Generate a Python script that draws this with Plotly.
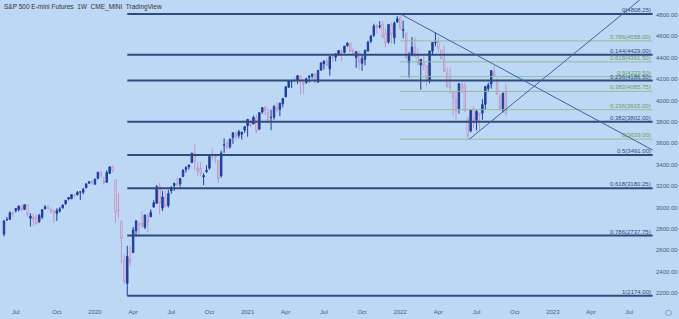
import pandas as pd
import plotly.graph_objects as go

# ---------------- data ----------------
week_start = "2019-06-03"
opens = [2751,2885,2889,2951,2971,2980,3014,2982,3024,2898,2907,2913,2866,2910,2988,2996,2983,2967,2944,2966,
         2996,3035,3079,3081,3118,3117,3143,3141,3183,3227,3240,
         3217,3271,3333,3248,3235,3318,3378,3257,2975,2863,2509,2290,2514,2578,2782,2845,2855,2815,2915,2913,
         3005,3038,3199,2994,3094,3018,3155,3205,3224,3220,3289,3356,3380,3419,3507,3370,3363,3285,3334,3367,
         3500,3493,3441,3296,3583,3600,3567,3654,3694,3675,3684,3723,
         3764,3803,3781,3844,3732,3892,3939,3886,3842,3844,3942,3916,3969,4034,4124,4179,4185,4192,4228,4169,
         4170,4216,4229,4248,4174,4285,4344,4372,4296,4409,4406,4438,4461,4450,4514,4535,4474,4403,4450,4348,
         4385,4463,4553,4610,4701,4689,4712,4628,4548,4710,4587,4733,
         4778,4655,4632,4356,4431,4505,4412,4332,4363,4327,4188,4462,4541,4547,4474,4385,4255,4130,4081,4014,
         3920,4151,4134,3838,3715,3921,3815,3880,3883,3965,4112,4155,4270,4195,4041,3909,4083]
highs = [2884,2911,2964,2962,2996,3014,3017,3028,3028,2945,2943,2939,2940,2985,3021,3022,2999,2983,2993,3003,
         3027,3067,3097,3121,3127,3154,3150,3183,3226,3247,3258,
         3268,3329,3338,3287,3347,3385,3393,3259,3136,2882,2562,2641,2641,2818,2880,2867,2965,2931,2945,2981,
         3068,3211,3233,3155,3155,3165,3198,3233,3280,3272,3352,3387,3400,3509,3588,3425,3429,3320,3394,3486,
         3550,3502,3441,3530,3646,3628,3645,3699,3712,3726,3711,3760,
         3826,3823,3860,3870,3887,3935,3950,3928,3915,3960,3983,3978,4020,4130,4191,4194,4219,4238,4237,4197,
         4213,4233,4255,4257,4286,4356,4372,4394,4415,4429,4440,4468,4480,4510,4546,4536,4486,4465,4466,4429,
         4475,4559,4608,4718,4714,4743,4744,4672,4713,4731,4740,4790,
         4808.25,4748,4632,4453,4595,4590,4490,4385,4416,4327,4465,4546,4637,4593,4471,4513,4308,4307,4081,4090,
         4158,4168,4169,3838,3913,3946,3918,3880,4013,4140,4168,4280,4325,4204,4061,4076,4160]
lows = [2728,2873,2883,2913,2953,2963,2967,2979,2914,2822,2825,2834,2856,2891,2981,2985,2946,2856,2874,2953,
        2988,3023,3066,3078,3091,3115,3070,3123,3183,3222,3212,
        3214,3264,3280,3214,3235,3315,3328,2855,2902,2479,2281,2174,2448,2578,2728,2727,2810,2798,2767,2910,
        2996,3038,2936,2966,3003,3000,3128,3155,3200,3194,3284,3327,3354,3419,3349,3293,3292,3209,3324,3354,
        3441,3413,3233,3279,3511,3543,3549,3595,3633,3647,3636,3697,
        3662,3749,3781,3694,3725,3876,3865,3789,3723,3819,3894,3853,3936,4034,4119,4118,4167,4156,4056,4062,
        4155,4167,4207,4165,4165,4279,4290,4322,4233,4360,4367,4422,4368,4440,4503,4457,4427,4306,4288,4278,
        4329,4460,4537,4595,4630,4672,4585,4495,4532,4531,4531,4733,
        4662,4582,4395,4212,4414,4401,4329,4101,4279,4137,4161,4424,4507,4450,4381,4267,4122,4062,3859,3811,
        3876,4073,3900,3639,3702,3741,3721,3722,3819,3913,4079,4112,4218,4057,3906,3887,3855]
closes = [2873,2887,2950,2942,2990,3014,2977,3026,2932,2919,2889,2847,2926,2979,3007,2992,2962,2952,2970,2986,
          3023,3067,3093,3120,3110,3141,3146,3169,3221,3240,3235,
          3265,3330,3295,3226,3328,3380,3338,2954,2972,2711,2305,2541,2489,2790,2875,2837,2831,2930,2864,2955,
          3044,3194,3041,3098,3009,3130,3185,3225,3216,3271,3351,3373,3397,3508,3427,3341,3319,3298,3348,3477,
          3484,3465,3270,3510,3585,3558,3638,3699,3663,3709,3703,3756,
          3824,3768,3841,3714,3887,3934,3907,3811,3842,3943,3913,3975,4020,4129,4185,4180,4181,4233,4174,4156,
          4204,4230,4247,4166,4281,4352,4370,4327,4412,4395,4437,4468,4442,4509,4535,4459,4433,4455,4357,4391,
          4471,4545,4605,4697,4683,4698,4595,4538,4712,4620,4725,4766,
          4677,4662,4398,4432,4500,4418,4349,4385,4329,4204,4463,4543,4546,4488,4392,4272,4132,4123,4024,3901,
          4158,4109,3901,3675,3912,3825,3899,3863,3962,4130,4145,4280,4228,4058,3924,4067,3880]

# Fibonacci retracements (dark: Mar-2020 low -> Jan-2022 high; green: Jun-2022 low -> Jan-2022 high)
fib_dark_low, fib_dark_high = 2174.00, 4808.25
fib_dark_ratios = [0, 0.144, 0.236, 0.382, 0.5, 0.618, 0.786, 1]
fib_dark_start = "2020-03-23"
fib_green_low, fib_green_high = 3639.00, 4808.25
fib_green_ratios = [0, 0.236, 0.382, 0.5, 0.618, 0.786]
fib_green_start = "2022-01-03"
fib_end = "2023-08-28"

# Trend lines
down_dates = ["2022-01-04", "2023-08-28"]
down_prices = [4808.25, 3537]
up_dates = ["2022-06-17", "2023-07-28"]
up_prices = [3639, 4940]

tick_dates = ["2019-07-01", "2019-10-07", "2020-01-06", "2020-04-06", "2020-07-06", "2020-10-05",
              "2021-01-04", "2021-04-05", "2021-07-05", "2021-10-04", "2022-01-03", "2022-04-04",
              "2022-07-04", "2022-10-03", "2023-01-02", "2023-04-03", "2023-07-03"]
tick_text = ["Jul", "Oct", "2020", "Apr", "Jul", "Oct", "2021", "Apr", "Jul", "Oct", "2022", "Apr",
             "Jul", "Oct", "2023", "Apr", "Jul"]
price_ticks = list(range(2200, 4801, 200))

# ---------------- figure ----------------
n = len(closes)
dates = pd.date_range(week_start, periods=n, freq="7D")

BG = "#bdd8f5"
DARK = "#2d4c7c"
GREEN = "#8fbf95"
FONT = "Liberation Sans"

fig = go.Figure()

def tick_round(v):
    return round(v * 4) / 4

# dark fib lines
for r in fib_dark_ratios:
    lvl = fib_dark_high - r * (fib_dark_high - fib_dark_low)
    fig.add_trace(go.Scatter(x=[fib_dark_start, fib_end], y=[lvl, lvl], mode="lines",
                             line=dict(color=DARK, width=2), hoverinfo="skip", showlegend=False))
    fig.add_annotation(x=fib_end, y=lvl, text=f"{r:g}({tick_round(lvl):.2f})", showarrow=False,
                       xanchor="right", yanchor="bottom", yshift=-1,
                       font=dict(family=FONT, size=6, color=DARK))
# green fib lines
for r in fib_green_ratios:
    lvl = fib_green_low + r * (fib_green_high - fib_green_low)
    fig.add_trace(go.Scatter(x=[fib_green_start, fib_end], y=[lvl, lvl], mode="lines",
                             line=dict(color=GREEN, width=1), hoverinfo="skip", showlegend=False))
    fig.add_annotation(x=fib_end, y=lvl, text=f"{r:g}({tick_round(lvl):.2f})", showarrow=False,
                       xanchor="right", yanchor="bottom", yshift=-1,
                       font=dict(family=FONT, size=6, color="#5fa060"))

# trend lines
fig.add_trace(go.Scatter(x=down_dates, y=down_prices, mode="lines",
                         line=dict(color="#3d62a5", width=1), hoverinfo="skip", showlegend=False))
fig.add_trace(go.Scatter(x=up_dates, y=up_prices, mode="lines",
                         line=dict(color="#3d62a5", width=1), hoverinfo="skip", showlegend=False))

# candles
fig.add_trace(go.Candlestick(
    x=dates, open=opens, high=highs, low=lows, close=closes,
    increasing=dict(line=dict(color="#1f3e9c", width=1), fillcolor="#1f3e9c"),
    decreasing=dict(line=dict(color="#bf98c6", width=1), fillcolor="#f3e4f2"),
    whiskerwidth=0, showlegend=False, hoverinfo="skip"))

px_per_day = 2.935 / 7
x0 = pd.Timestamp(week_start) - pd.Timedelta(days=4 / px_per_day)
x1 = x0 + pd.Timedelta(days=655 / px_per_day)

fig.update_layout(
    width=679, height=319,
    margin=dict(l=0, r=24, t=0, b=21),
    paper_bgcolor=BG, plot_bgcolor=BG,
    font=dict(family=FONT, size=6, color="#4a5a70"),
    xaxis=dict(range=[x0, x1], rangeslider=dict(visible=False), showgrid=False, zeroline=False,
               tickvals=tick_dates, ticktext=tick_text, ticks="", showline=False,
               ticklabelstandoff=9,
               tickfont=dict(size=6, color="#4a5a70")),
    yaxis=dict(range=[2153.2, 4940.3], side="right", showgrid=False, zeroline=False,
               tickvals=price_ticks, tickformat=".2f", ticks="", showline=False,
               tickfont=dict(size=6, color="#4a5a70")),
    showlegend=False,
)

fig.add_annotation(xref="paper", yref="paper", x=0.003, y=1, xanchor="left", yanchor="top",
                   text="S&amp;P 500 E-mini Futures  1W  CME_MINI  TradingView", showarrow=False,
                   font=dict(family=FONT, size=6.5, color="#333333"), yshift=-1)
fig.add_annotation(xref="paper", yref="paper", x=1.02, y=-0.05, xanchor="center", yanchor="middle",
                   text="○", showarrow=False, font=dict(family="DejaVu Sans", size=8, color="#4a5a70"))

fig.write_html("out.html")
